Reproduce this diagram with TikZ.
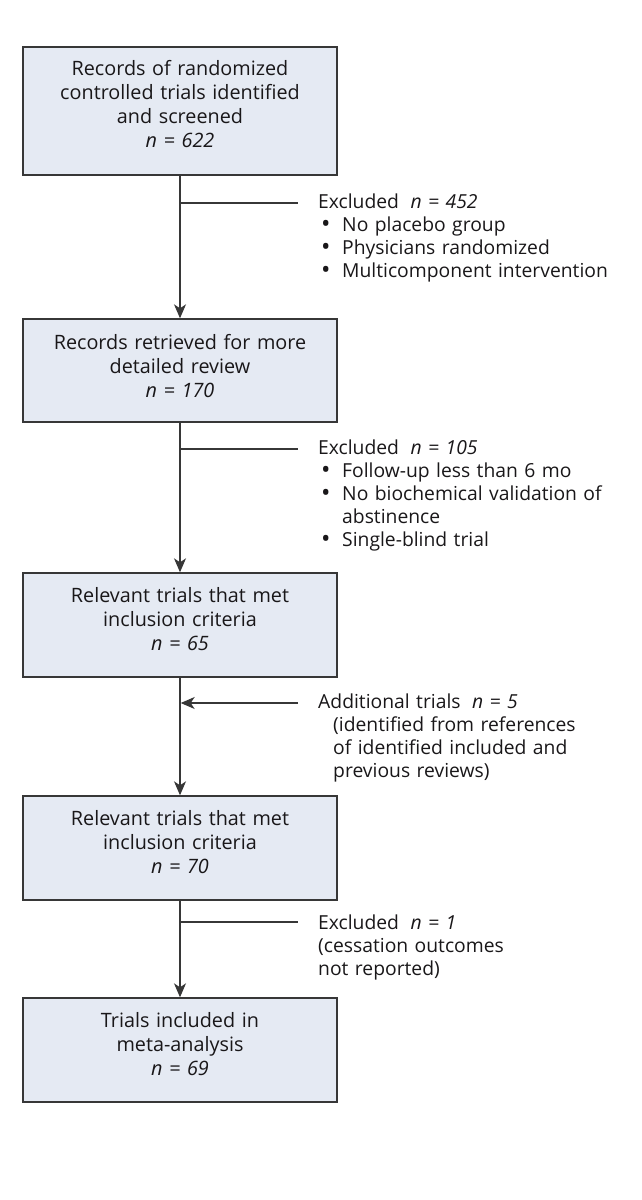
\documentclass[tikz,border=0pt]{standalone}
\usepackage{fontspec}
\setmainfont{Open Sans}
\usetikzlibrary{arrows.meta}
\definecolor{boxfill}{RGB}{229,234,243}
\definecolor{linegray}{RGB}{55,55,55}
\definecolor{txt}{RGB}{25,23,25}
\begin{document}
\begin{tikzpicture}[x=1pt,y=-1pt,
  box/.style={draw=linegray, line width=1.4pt, fill=boxfill, minimum width=314pt, inner sep=0pt},
  btxt/.style={text=txt, text width=314pt, align=center, inner sep=0pt, anchor=base,
    font=\fontsize{19.8}{24.3}\selectfont},
  stxt/.style={text=txt, text width=320pt, align=left, inner sep=0pt, anchor=base west,
    font=\fontsize{19.3}{23}\selectfont},
  conn/.style={draw=linegray, line width=1.3pt},
  arr/.style={conn, -{Stealth[length=14pt,width=12pt,inset=4pt]}}
]
\useasboundingbox (0,0) rectangle (642,1200);
\newcommand{\bul}{\hspace*{3pt}\makebox[21pt][l]{\smash{\raisebox{-1.2pt}{\scalebox{1.3}{\textbullet}}}}}

% boxes
\node[box, minimum height=128pt] (b1) at (180,111) {};
\node[box, minimum height=103pt] (b2) at (180,370.5) {};
\node[box, minimum height=104pt] (b3) at (180,625) {};
\node[box, minimum height=104pt] (b4) at (180,848) {};
\node[box, minimum height=104pt] (b5) at (180,1050) {};

\node[btxt] (t1) at (180,75) {Records of randomized\\controlled trials identified\\and screened\\\textit{n = 622}};
\node[btxt] (t2) at (180,349) {Records retrieved for more\\detailed review\\\textit{n = 170}};
\node[btxt] (t3) at (180,602) {Relevant trials that met\\inclusion criteria\\\textit{n = 65}};
\node[btxt] (t4) at (180,825) {Relevant trials that met\\inclusion criteria\\\textit{n = 70}};
\node[btxt] (t5) at (180,1027) {Trials included in\\meta-analysis\\\textit{n = 69}};

% main flow
\draw[arr] (b1.south) -- (b2.north);
\draw[arr] (b2.south) -- (b3.north);
\draw[arr] (b3.south) -- (b4.north);
\draw[arr] (b4.south) -- (b5.north);

% side branches
\coordinate (j1) at (180,203); \coordinate (k1) at (298,203);
\coordinate (j2) at (180,449); \coordinate (k2) at (298,449);
\coordinate (j3) at (180.7,703); \coordinate (k3) at (298,703);
\coordinate (j4) at (180,922); \coordinate (k4) at (298,922);
\draw[conn] (j1) -- (k1);
\draw[conn] (j2) -- (k2);
\draw[arr] (k3) -- (j3);
\draw[conn] (j4) -- (k4);

\node[stxt] (s1) at (318,208) {Excluded\hspace{0.6em}\textit{n = 452}\\
\bul No placebo group\\
\bul Physicians randomized\\
\bul Multicomponent intervention};
\node[stxt] (s2) at (318,454) {Excluded\hspace{0.6em}\textit{n = 105}\\
\bul Follow-up less than 6 mo\\
\bul No biochemical validation of\\
\hspace*{24pt}abstinence\\
\bul Single-blind trial};
\node[stxt] (s3) at (318,708) {Additional trials\hspace{0.6em}\textit{n = 5}\\
\hspace*{15pt}(identified from references\\
\hspace*{15pt}of identified included and\\
\hspace*{15pt}previous reviews)};
\node[stxt] (s4) at (318,929) {Excluded\hspace{0.6em}\textit{n = 1}\\
(cessation outcomes\\
not reported)};
\end{tikzpicture}
\end{document}
